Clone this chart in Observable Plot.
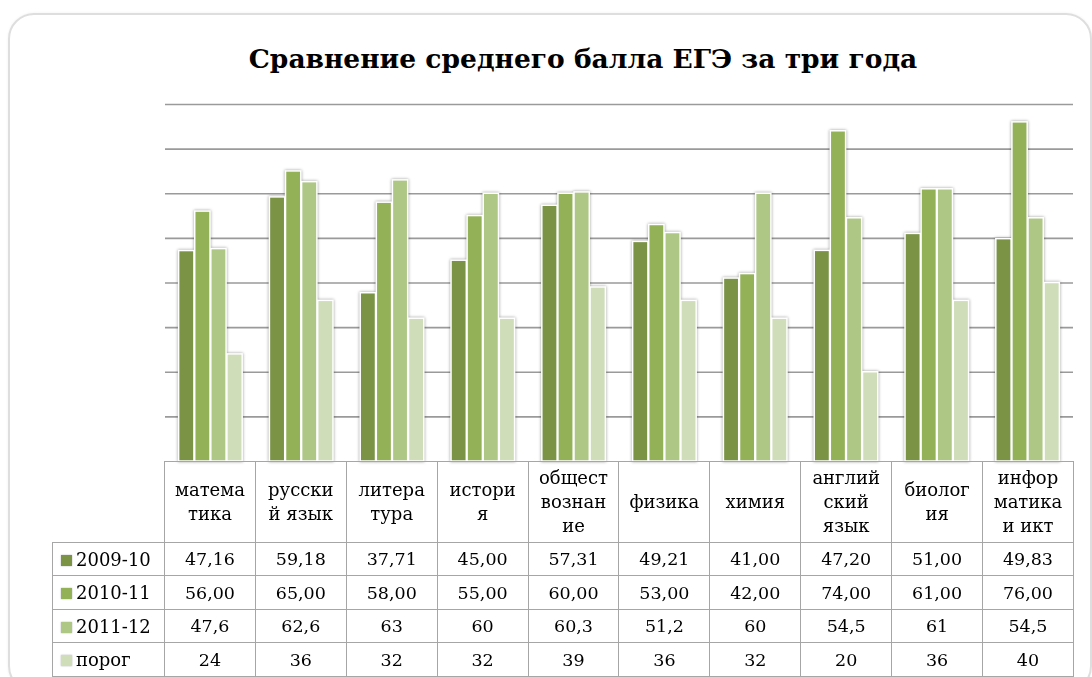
<!DOCTYPE html>
<html><head><meta charset="utf-8">
<script src="https://cdn.jsdelivr.net/npm/d3@7"></script>
<script src="https://cdn.jsdelivr.net/npm/@observablehq/plot@0.6"></script>
<style>
body{margin:0;background:#fff;}
#wrap{position:relative;width:1092px;height:677px;overflow:hidden;font-family:"DejaVu Serif",serif;}
#box{position:absolute;left:8px;top:13px;width:1080px;height:675px;border:2px solid #dedede;border-radius:26px;box-shadow:0 0 3px rgba(0,0,0,0.06);}
#title{position:absolute;top:43px;left:583px;transform:translateX(-50%);white-space:nowrap;font-family:"DejaVu Serif",serif;font-weight:bold;font-size:26.5px;color:#000;}
#grid,#chart{position:absolute;left:0;top:0;background:transparent !important;}
#tbl{position:absolute;left:52px;top:461px;border-collapse:collapse;table-layout:fixed;width:1021px;color:#000;font-size:17.5px;}
#tbl td{border:1px solid #a6a6a6;text-align:center;padding:0;}
#tbl td.empty{border-top:none;border-left:none;}
#tbl td.hdr{line-height:24px;vertical-align:middle;font-size:18px;}
#tbl td.lg{text-align:left;padding-left:8px;white-space:nowrap;font-size:18px;}
.sw{display:inline-block;width:11px;height:11px;margin-right:4px;vertical-align:0px;box-shadow:0 0 1.5px rgba(0,0,0,0.3);}
</style></head>
<body><div id="wrap"><div id="box"></div><div id="title">Сравнение среднего балла ЕГЭ за три года</div></div>
<script>
const categories = ["математика","русский язык","литература","история","обществознание","физика","химия","английский язык","биология","информатика и икт"];
const headerLabels = ["матема\nтика","русски\nй язык","литера\nтура","истори\nя","общест\nвознан\nие","физика","химия","англий\nский\nязык","биолог\nия","инфор\nматика\nи икт"];
const series = ["2009-10","2010-11","2011-12","порог"];
const v2009 = [47.16,59.18,37.71,45.00,57.31,49.21,41.00,47.20,51.00,49.83];
const v2010 = [56.00,65.00,58.00,55.00,60.00,53.00,42.00,74.00,61.00,76.00];
const v2011 = [47.6,62.6,63,60,60.3,51.2,60,54.5,61,54.5];
const vPorog = [24,36,32,32,39,36,32,20,36,40];
const decimals = [2,2,null,null];
const colors = ["#7a9344","#93b157","#aec784","#cfddb9"];
const yTicks = [0,10,20,30,40,50,60,70,80];

const seriesValues = [v2009,v2010,v2011,vPorog];
const data = [];
categories.forEach((c,i)=>series.forEach((s,j)=>data.push({category:c, series:s, value:seriesValues[j][i]})));

const frame = {width:1092, height:470, marginTop:104, marginBottom:9, marginLeft:165, marginRight:19};

const grid = Plot.plot({
  ...frame,
  x:{axis:null},
  y:{domain:[0,80], axis:null},
  marks:[ Plot.ruleY(yTicks.slice(1), {stroke:"#9a9a9a", strokeWidth:1.6}) ]
});
grid.id = "grid";

const chart = Plot.plot({
  ...frame,
  fx:{domain:categories, paddingInner:0.3, paddingOuter:0.15, round:false, axis:null},
  x:{domain:series, paddingInner:0.05, paddingOuter:0, round:false, axis:null},
  y:{domain:[0,80], axis:null},
  color:{domain:series, range:colors},
  marks:[
    Plot.barY(data, {fx:"category", x:"series", y:"value", fill:"series", stroke:"white", strokeWidth:1.5})
  ]
});
chart.id = "chart";
chart.querySelectorAll('g[aria-label="bar"]').forEach(g=>g.style.filter="drop-shadow(0px 0px 1.5px rgba(0,0,0,0.4))");
const wrap = document.getElementById("wrap");
const titleEl = document.getElementById("title");
wrap.insertBefore(grid, titleEl);
wrap.insertBefore(chart, titleEl);

function fmt(v, d){ return (d==null ? String(v) : v.toFixed(d)).replace(".", ","); }

const tbl = document.createElement("table");
tbl.id = "tbl";
const cg = document.createElement("colgroup");
const c0 = document.createElement("col"); c0.style.width = "112px"; cg.appendChild(c0);
categories.forEach(()=>{ const c = document.createElement("col"); c.style.width = "90.9px"; cg.appendChild(c); });
tbl.appendChild(cg);
const hr = document.createElement("tr"); hr.style.height = "81px";
const e = document.createElement("td"); e.className = "empty"; hr.appendChild(e);
headerLabels.forEach(h=>{ const td = document.createElement("td"); td.className = "hdr"; td.innerHTML = h.split("\n").join("<br>"); hr.appendChild(td); });
tbl.appendChild(hr);
const rowH = [33,34,33,34];
series.forEach((s,j)=>{
  const tr = document.createElement("tr"); tr.style.height = rowH[j] + "px";
  const lg = document.createElement("td"); lg.className = "lg";
  lg.innerHTML = `<span class="sw" style="background:${colors[j]}"></span>${s}`;
  tr.appendChild(lg);
  seriesValues[j].forEach(v=>{ const td = document.createElement("td"); td.textContent = fmt(v, decimals[j]); tr.appendChild(td); });
  tbl.appendChild(tr);
});
wrap.appendChild(tbl);
</script>
</body></html>
